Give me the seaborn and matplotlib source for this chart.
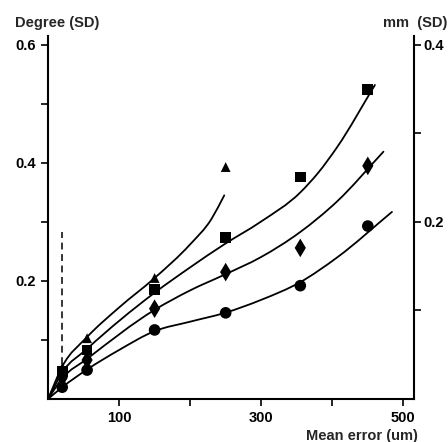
import matplotlib
matplotlib.use("Agg")
import matplotlib.pyplot as plt
import seaborn as sns
import pandas as pd
import numpy as np
from matplotlib.ticker import FixedLocator
from matplotlib.path import Path
from matplotlib.patches import PathPatch

# ---- data ----
x_pts = [20, 55, 150, 250, 355, 450]
tri_x = [20, 55, 150, 250]
tri_y = [0.053, 0.103, 0.205, 0.393]
sq_y = [0.046, 0.083, 0.186, 0.273, 0.376, 0.524]
dia_y = [0.036, 0.066, 0.153, 0.215, 0.256, 0.395]
cir_y = [0.020, 0.049, 0.117, 0.146, 0.192, 0.293]

# fitted curves
tri_cx = [0, 20, 55, 100, 150, 200, 230, 248]
tri_cy = [0, 0.055, 0.105, 0.155, 0.205, 0.262, 0.305, 0.345]
sq_cx = [0, 20, 55, 150, 200, 248, 299, 355, 380, 407, 460]
sq_cy = [0, 0.045, 0.085, 0.180, 0.223, 0.262, 0.300, 0.350, 0.383, 0.427, 0.532]
dia_cx = [0, 20, 55, 150, 200, 249, 299, 355, 407, 472]
dia_cy = [0, 0.035, 0.068, 0.151, 0.184, 0.211, 0.240, 0.283, 0.335, 0.419]
cir_cx = [0, 20, 55, 100, 150, 200, 249, 300, 355, 407, 484]
cir_cy = [0, 0.020, 0.050, 0.083, 0.115, 0.131, 0.146, 0.168, 0.198, 0.240, 0.317]

x_major = [100, 300, 500]
x_minor = [200, 400]
y_left_major = [0.2, 0.4, 0.6]
y_left_minor = [0.1, 0.3, 0.5]
y_right_major = [0.2, 0.4]
y_right_minor = [0.1, 0.3]
dash_x = 20
dash_y = [0.02, 0.283]

sns.set_style("ticks")
plt.rcParams['font.family'] = ['Liberation Sans', 'DejaVu Sans']

pts = pd.DataFrame({
    "x": tri_x + x_pts * 3,
    "y": tri_y + sq_y + dia_y + cir_y,
    "s": ["tri"] * len(tri_x) + ["sq"] * 6 + ["dia"] * 6 + ["cir"] * 6,
})

fig = plt.figure(figsize=(4.48, 4.42), dpi=100)
ax = fig.add_axes([48 / 448, 43 / 442, 366 / 448, 363 / 442])
ax.set_xlim(0, 515)
ax.set_ylim(0, 0.615)


def smooth_path(xs, ys):
    """Smooth cubic (Hermite/Bezier) path through the read curve points."""
    x = np.asarray(xs, float)
    y = np.asarray(ys, float)
    h = np.diff(x)
    d = np.diff(y) / h
    m = np.empty_like(y)
    m[0] = d[0]
    m[-1] = d[-1]
    for i in range(1, len(x) - 1):
        m[i] = (h[i - 1] * d[i] + h[i] * d[i - 1]) / (h[i - 1] + h[i])
    verts = [(x[0], y[0])]
    codes = [Path.MOVETO]
    for i in range(len(x) - 1):
        verts += [(x[i] + h[i] / 3, y[i] + m[i] * h[i] / 3),
                  (x[i + 1] - h[i] / 3, y[i + 1] - m[i + 1] * h[i] / 3),
                  (x[i + 1], y[i + 1])]
        codes += [Path.CURVE4] * 3
    return Path(verts, codes)


for cx, cy in [(tri_cx, tri_cy), (sq_cx, sq_cy), (dia_cx, dia_cy), (cir_cx, cir_cy)]:
    ax.add_patch(PathPatch(smooth_path(cx, cy), facecolor="none",
                           edgecolor="black", lw=1.3, capstyle="round"))

sns.scatterplot(data=pts, x="x", y="y", style="s", size="s",
                markers={"tri": "^", "sq": "s", "dia": "d", "cir": "o"},
                sizes={"tri": 50, "sq": 60, "dia": 90, "cir": 70},
                color="black", edgecolor="black", linewidth=0,
                ax=ax, legend=False, zorder=3)

ax.plot([dash_x, dash_x], dash_y, color="black", lw=1.1, ls=(0, (4.5, 3)))

ax.set_xlim(0, 515)
ax.set_ylim(0, 0.615)
ax.set_xlabel("")
ax.set_ylabel("")
ax.xaxis.set_major_locator(FixedLocator(x_major))
ax.xaxis.set_minor_locator(FixedLocator(x_minor))
ax.yaxis.set_major_locator(FixedLocator(y_left_major))
ax.yaxis.set_minor_locator(FixedLocator(y_left_minor))
ax.set_xticklabels([str(v) for v in x_major], fontweight="bold")
ax.set_yticklabels([f"{v:.1f}" for v in y_left_major], fontweight="bold")
ax.tick_params(axis="both", which="major", length=5, width=1.2, labelsize=10.5, pad=4, colors="black")
ax.tick_params(axis="both", which="minor", length=5, width=1.2, colors="black")
for sp in ["left", "bottom"]:
    ax.spines[sp].set_linewidth(1.5)
    ax.spines[sp].set_color("black")
ax.spines["top"].set_visible(False)
ax.spines["right"].set_visible(False)

ax2 = ax.twinx()
ax2.set_ylim(0, 0.615 * 2 / 3)
ax2.yaxis.set_major_locator(FixedLocator(y_right_major))
ax2.yaxis.set_minor_locator(FixedLocator(y_right_minor))
ax2.set_yticklabels([f"{v:.1f}" for v in y_right_major], fontweight="bold")
ax2.tick_params(axis="y", which="major", length=5, width=1.2, labelsize=10.5, pad=2, colors="black")
ax2.tick_params(axis="y", which="minor", length=5, width=1.2, colors="black")
ax2.spines["right"].set_linewidth(1.5)
ax2.spines["right"].set_color("black")
for sp in ["top", "left", "bottom"]:
    ax2.spines[sp].set_visible(False)

fig.text(15 / 448, 1 - 23 / 442, "Degree (SD)", fontsize=10.5, fontweight="bold", ha="left", va="center")
fig.text(447 / 448, 1 - 23 / 442, "mm  (SD)", fontsize=10.5, fontweight="bold", ha="right", va="center")
fig.text(418 / 448, 1 - 436 / 442, "Mean error (um)", fontsize=10.5, fontweight="bold", ha="right", va="center")

fig.savefig("out.png", dpi=100, facecolor="white")
